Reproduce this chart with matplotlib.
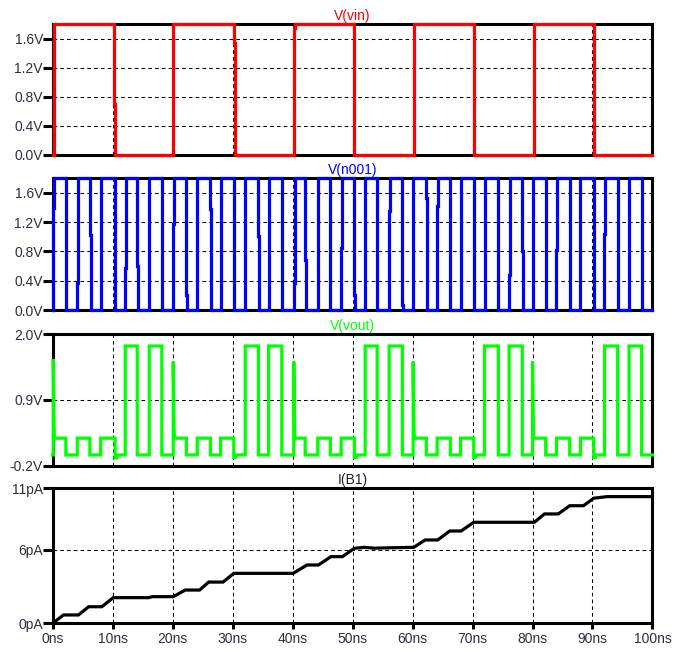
import matplotlib
matplotlib.use('Agg')
import matplotlib.pyplot as plt

plt.rcParams['font.family'] = ['Liberation Sans', 'DejaVu Sans']

# --- waveform data (ns, V / pA) ---
# V(vin): edge times, level after first edge alternates high/low
vin_edges = [0.25, 10.3, 20.1, 30.2, 40.2, 50.3, 60.2, 70.3, 80.2, 90.2]
vin_mids = [None, 0.7, None, 1.55, 1.75, None, 1.2, None, 0.65, 0.15]
vin_low, vin_high = 0.0, 1.8

# V(n001): rising and falling edge times with intermediate solver steps
n001_rise = [0.1, 4.1, 8.0, 12.1, 16.1, 20.1, 24.1, 28.0, 32.1, 36.0, 40.2, 44.2, 48.1,
             52.1, 56.1, 60.1, 64.1, 68.0, 72.0, 76.1, 80.0, 84.0, 88.0, 92.0, 96.1]
n001_fall = [2.2, 6.2, 10.4, 14.1, 18.2, 22.3, 26.3, 30.2, 34.3, 38.2, 42.1, 46.3, 50.3,
             54.1, 58.3, 62.3, 66.3, 70.2, 74.3, 78.3, 82.2, 86.2, 90.2, 94.2, 98.2]
n001_rise_mid = [1.4, 0.37, None, 0.57, None, 1.17, None, 1.41, None, None, 0.37, None, 0.85,
                 None, 1.35, None, 1.42, 0.07, None, 0.48, None, 0.82, None, 1.04, None]
n001_fall_mid = [None, 1.03, None, 0.6, None, 0.2, 1.38, None, 1.01, None, 0.69, None, 0.2,
                 None, 0.07, 1.53, None, 1.03, None, 0.8, None, 0.2, 1.62, None, 1.17]
n001_low, n001_high = 0.0, 1.8

# V(vout): pulse height for each n001 high phase, glitches at vin edges
vout_pulse = [0.26, 0.26, 0.26, 1.8, 1.8, 0.26, 0.26, 0.26, 1.8, 1.8, 0.26, 0.26, 0.26,
              1.8, 1.8, 0.26, 0.26, 0.26, 1.8, 1.8, 0.26, 0.26, 0.26, 1.8, 1.8]
vout_spike = {0: 1.58, 5: 1.54, 10: 1.54, 15: 1.54, 20: 1.54}
vout_dip = {2: -0.07, 7: -0.06, 12: -0.06, 17: -0.06, 22: -0.06}
vout_low = -0.02

# I(B1)
ib1_t = [0, 1.8, 4.3, 6.0, 8.2, 10.1, 16.0, 16.6, 20.1, 22.1, 24.5, 26.0, 28.4, 30.2,
         40.1, 42.4, 44.3, 46.4, 48.3, 50.3, 52.0, 53.5, 57.0, 60.2, 62.1, 64.2, 66.2,
         68.1, 70.2, 80.3, 82.0, 84.3, 86.2, 88.5, 90.2, 92.4, 100]
ib1_pA = [0, 0.68, 0.68, 1.35, 1.35, 2.09, 2.09, 2.17, 2.17, 2.71, 2.71, 3.36, 3.36, 4.07,
          4.07, 4.75, 4.75, 5.43, 5.43, 6.11, 6.19, 6.12, 6.16, 6.19, 6.79, 6.79, 7.52,
          7.52, 8.23, 8.23, 8.91, 8.91, 9.58, 9.58, 10.19, 10.32, 10.32]

x_ticks = list(range(0, 101, 10))
x_labels = [f'{t}ns' for t in x_ticks]


def steps(edges, levels, mids, dt=0.12):
    # piecewise-constant trace; levels[i] holds before edge i, levels[i+1] after
    t, v = [0.0], [levels[0]]
    for i, e in enumerate(edges):
        t.append(e); v.append(levels[i])
        if mids[i] is not None:
            t += [e, e + dt]; v += [mids[i], mids[i]]
            t.append(e + dt)
        else:
            t.append(e)
        v.append(levels[i + 1])
    t.append(100.0); v.append(levels[-1])
    return t, v


# vin
vin_levels = [vin_low] + [vin_high if i % 2 == 0 else vin_low for i in range(len(vin_edges))]
vin_t, vin_v = steps(vin_edges, vin_levels, vin_mids)

# n001
n_edges, n_mids = [], []
for r, f, rm, fm in zip(n001_rise, n001_fall, n001_rise_mid, n001_fall_mid):
    n_edges += [r, f]
    n_mids += [rm, fm]
n_levels = [n001_low] + [n001_high if i % 2 == 0 else n001_low for i in range(len(n_edges))]
n_t, n_v = steps(n_edges, n_levels, n_mids)

# vout
vo_t, vo_v = [0.0], [vout_low]
for i, (r, f) in enumerate(zip(n001_rise, n001_fall)):
    h = vout_pulse[i]
    if i in vout_spike:
        vo_t += [r, r, r + 0.12, r + 0.2]
        vo_v += [vout_low, vout_spike[i], 0.5, h]
    else:
        vo_t += [r, r]
        vo_v += [vout_low, h]
    if i in vout_dip:
        vo_t += [f, f, f + 0.3, f + 0.3]
        vo_v += [h, vout_dip[i], vout_dip[i], vout_low]
    else:
        vo_t += [f, f]
        vo_v += [h, vout_low]
vo_t.append(100.0); vo_v.append(vout_low)

# --- figure ---
fig = plt.figure(figsize=(6.84, 6.52), dpi=100)
left, width = 0.077, 0.8769
panels = [
    dict(rect=[left, 0.7623, width, 0.2002], t=vin_t, v=vin_v, color='#ff0000', title='V(vin)',
         ylim=(0, 1.8), yticks=[0, 0.4, 0.8, 1.2, 1.6], ylabels=['0.0V', '0.4V', '0.8V', '1.2V', '1.6V']),
    dict(rect=[left, 0.5245, width, 0.2020], t=n_t, v=n_v, color='#0000ff', title='V(n001)',
         ylim=(0, 1.8), yticks=[0, 0.4, 0.8, 1.2, 1.6], ylabels=['0.0V', '0.4V', '0.8V', '1.2V', '1.6V']),
    dict(rect=[left, 0.2857, width, 0.2020], t=vo_t, v=vo_v, color='#00ff00', title='V(vout)',
         ylim=(-0.2, 2.0), yticks=[-0.2, 0.9, 2.0], ylabels=['-0.2V', '0.9V', '2.0V']),
    dict(rect=[left, 0.0440, width, 0.2071], t=ib1_t, v=ib1_pA, color='black', title='I(B1)',
         ylim=(0, 11), yticks=[0, 6, 11], ylabels=['0pA', '6pA', '11pA']),
]

for k, p in enumerate(panels):
    ax = fig.add_axes(p['rect'])
    ax.plot(p['t'], p['v'], color=p['color'], lw=2.3, zorder=3, clip_on=False,
            solid_joinstyle='miter')
    ax.set_xlim(0, 100)
    ax.set_ylim(*p['ylim'])
    ax.set_yticks(p['yticks'])
    ax.set_yticklabels(p['ylabels'])
    ax.set_xticks(x_ticks)
    ax.grid(True, color='black', linestyle=(0, (3.5, 3)), linewidth=0.75)
    for s in ax.spines.values():
        s.set_linewidth(2.2)
        s.set_color('black')
    ax.tick_params(axis='y', direction='out', length=7, width=2.2, pad=0,
                   labelsize=10, labelcolor='#2e2e40')
    if k < 3:
        ax.tick_params(axis='x', length=0, labelbottom=False)
    else:
        ax.set_xticklabels(x_labels)
        ax.tick_params(axis='x', direction='out', length=4, width=2.2, pad=2,
                       labelsize=10, labelcolor='#2e2e40')
    title_color = p['color'] if p['color'] != 'black' else '#222222'
    ax.set_title(p['title'], color=title_color, fontsize=10, pad=3)

fig.savefig('out.png', dpi=100)
